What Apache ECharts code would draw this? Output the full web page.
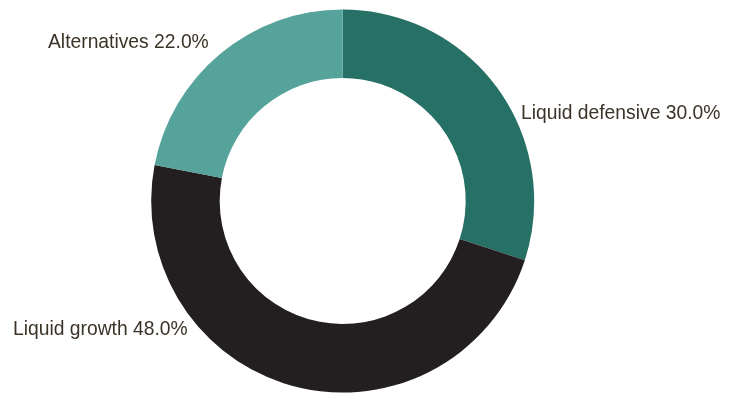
<!DOCTYPE html>
<html>
<head>
<meta charset="utf-8">
<script src="https://cdn.jsdelivr.net/npm/echarts@6/dist/echarts.min.js"></script>
<style>
html,body{margin:0;padding:0;background:#fff;}
#chart{width:737px;height:394px;}
</style>
</head>
<body>
<div id="chart"></div>
<script>
const categories = ["Liquid defensive", "Liquid growth", "Alternatives"];
const values = [30.0, 48.0, 22.0];
const colors = ["#267065", "#231f20", "#55a39a"];
// label anchor positions (left edge x, middle y)
const labelPos = [[521, 113.3], [13, 330], [48, 42.6]];

const chart = echarts.init(document.getElementById('chart'), null, {renderer: 'canvas'});
chart.setOption({
  animation: false,
  backgroundColor: '#ffffff',
  series: [{
    type: 'pie',
    center: [342.7, 201],
    radius: [123, 191.5],
    startAngle: 90,
    clockwise: true,
    avoidLabelOverlap: false,
    data: categories.map((c, i) => ({name: c, value: values[i], itemStyle: {color: colors[i]}})),
    itemStyle: {borderWidth: 0},
    emphasis: {disabled: true},
    label: {
      show: true,
      position: 'outside',
      formatter: p => p.name + ' ' + p.value.toFixed(1) + '%',
      fontFamily: 'Liberation Sans, Arial, sans-serif',
      fontSize: 19.3,
      color: '#3b3327'
    },
    labelLine: {show: false},
    labelLayout: function (params) {
      const p = labelPos[params.dataIndex];
      return {x: p[0], y: p[1], align: 'left', verticalAlign: 'middle'};
    }
  }]
});
</script>
</body>
</html>
